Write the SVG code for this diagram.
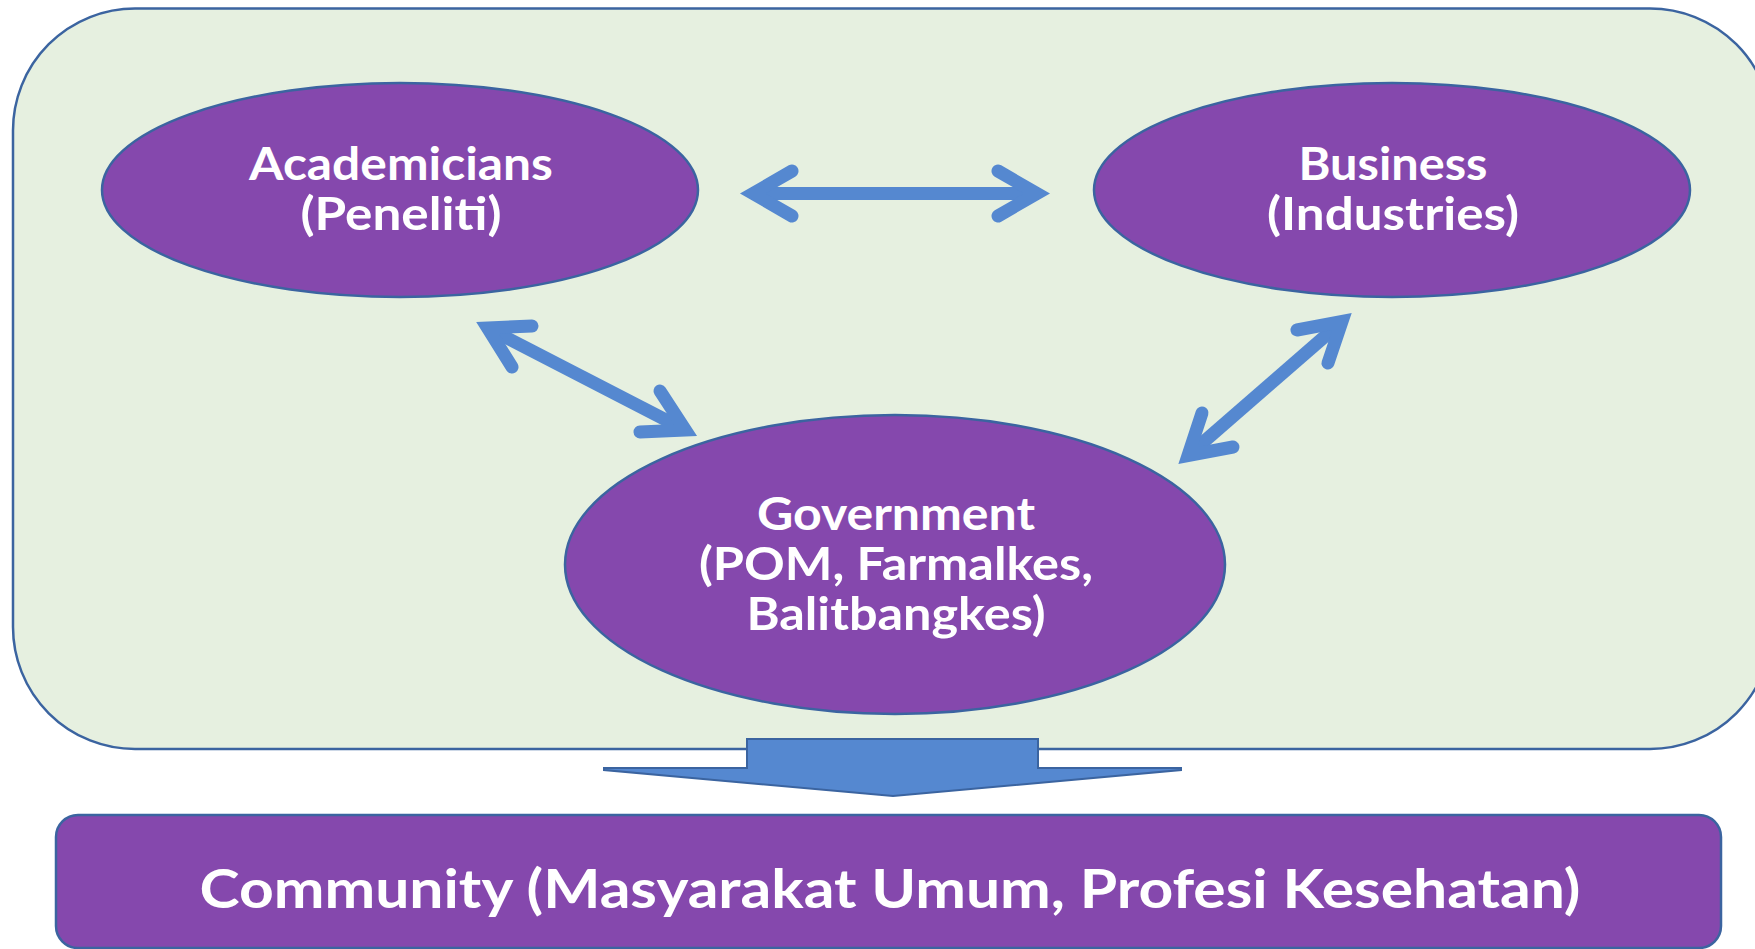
<svg xmlns="http://www.w3.org/2000/svg" width="1755" height="949" viewBox="0 0 1755 949">
<style>
.frame{fill:#E6F0E0;stroke:#3B64A0;stroke-width:2.5}
.node{fill:#8548AD;stroke:#3B64A0;stroke-width:2.5}
.lbl{font-family:Lato,"Open Sans","Liberation Sans",sans-serif;font-weight:bold;font-size:46px;fill:#FFFFFF;text-anchor:middle}
.big{font-size:54px}
.conn{fill:none;stroke:#5588D0;stroke-width:13;stroke-linecap:round;stroke-linejoin:miter;stroke-miterlimit:6}
.shaft{fill:none;stroke:#5588D0;stroke-width:13;stroke-linecap:butt}
.block{fill:#5588D0;stroke:#3B64A0;stroke-width:2}
</style>
<rect width="1755" height="949" fill="#FFFFFF"/>
<rect id="frame" class="frame" x="13" y="8.5" width="1759" height="740.5" rx="122" ry="122"/>
<g id="connectors">
  <path class="shaft" d="M753,193.5 L1037,193.5"/>
  <path class="conn" d="M792,171 L753,193.5 L792,216"/>
  <path class="conn" d="M998,171 L1037,193.5 L998,216"/>
  <path class="shaft" d="M487.6,328 L685.4,430"/>
  <path class="conn" d="M532,326 L487.6,328 L512,367"/>
  <path class="conn" d="M660,391 L685.4,430 L640,432"/>
  <path class="shaft" d="M1188,455.5 L1342,321.5"/>
  <path class="conn" d="M1202,413 L1188,455.5 L1233,447"/>
  <path class="conn" d="M1297,330 L1342,321.5 L1328,363"/>
  <path id="flow" class="block" d="M747,739 L1038,739 L1038,768 L1181,768 L1181,770 L893,796 L604,770 L604,768 L747,768 Z"/>
</g>
<g id="academicians">
  <ellipse class="node" cx="400" cy="190" rx="298" ry="107"/>
  <text class="lbl"><tspan x="401" y="180" textLength="304" lengthAdjust="spacingAndGlyphs">Academicians</tspan><tspan x="401" y="230" textLength="201" lengthAdjust="spacingAndGlyphs">(Peneliti)</tspan></text>
</g>
<g id="business">
  <ellipse class="node" cx="1392" cy="190" rx="298" ry="107"/>
  <text class="lbl"><tspan x="1393" y="180" textLength="189" lengthAdjust="spacingAndGlyphs">Business</tspan><tspan x="1393" y="230" textLength="252" lengthAdjust="spacingAndGlyphs">(Industries)</tspan></text>
</g>
<g id="government">
  <ellipse class="node" cx="895" cy="564.5" rx="330" ry="149.5"/>
  <text class="lbl"><tspan x="896" y="530" textLength="278" lengthAdjust="spacingAndGlyphs">Government</tspan><tspan x="896" y="580" textLength="394" lengthAdjust="spacingAndGlyphs">(POM, Farmalkes,</tspan><tspan x="896" y="630" textLength="299" lengthAdjust="spacingAndGlyphs">Balitbangkes)</tspan></text>
</g>
<g id="community">
  <rect class="node" x="56" y="815" width="1665" height="133" rx="22" ry="22"/>
  <text class="lbl big" x="890" y="908" textLength="1381" lengthAdjust="spacingAndGlyphs">Community (Masyarakat Umum, Profesi Kesehatan)</text>
</g>
</svg>
